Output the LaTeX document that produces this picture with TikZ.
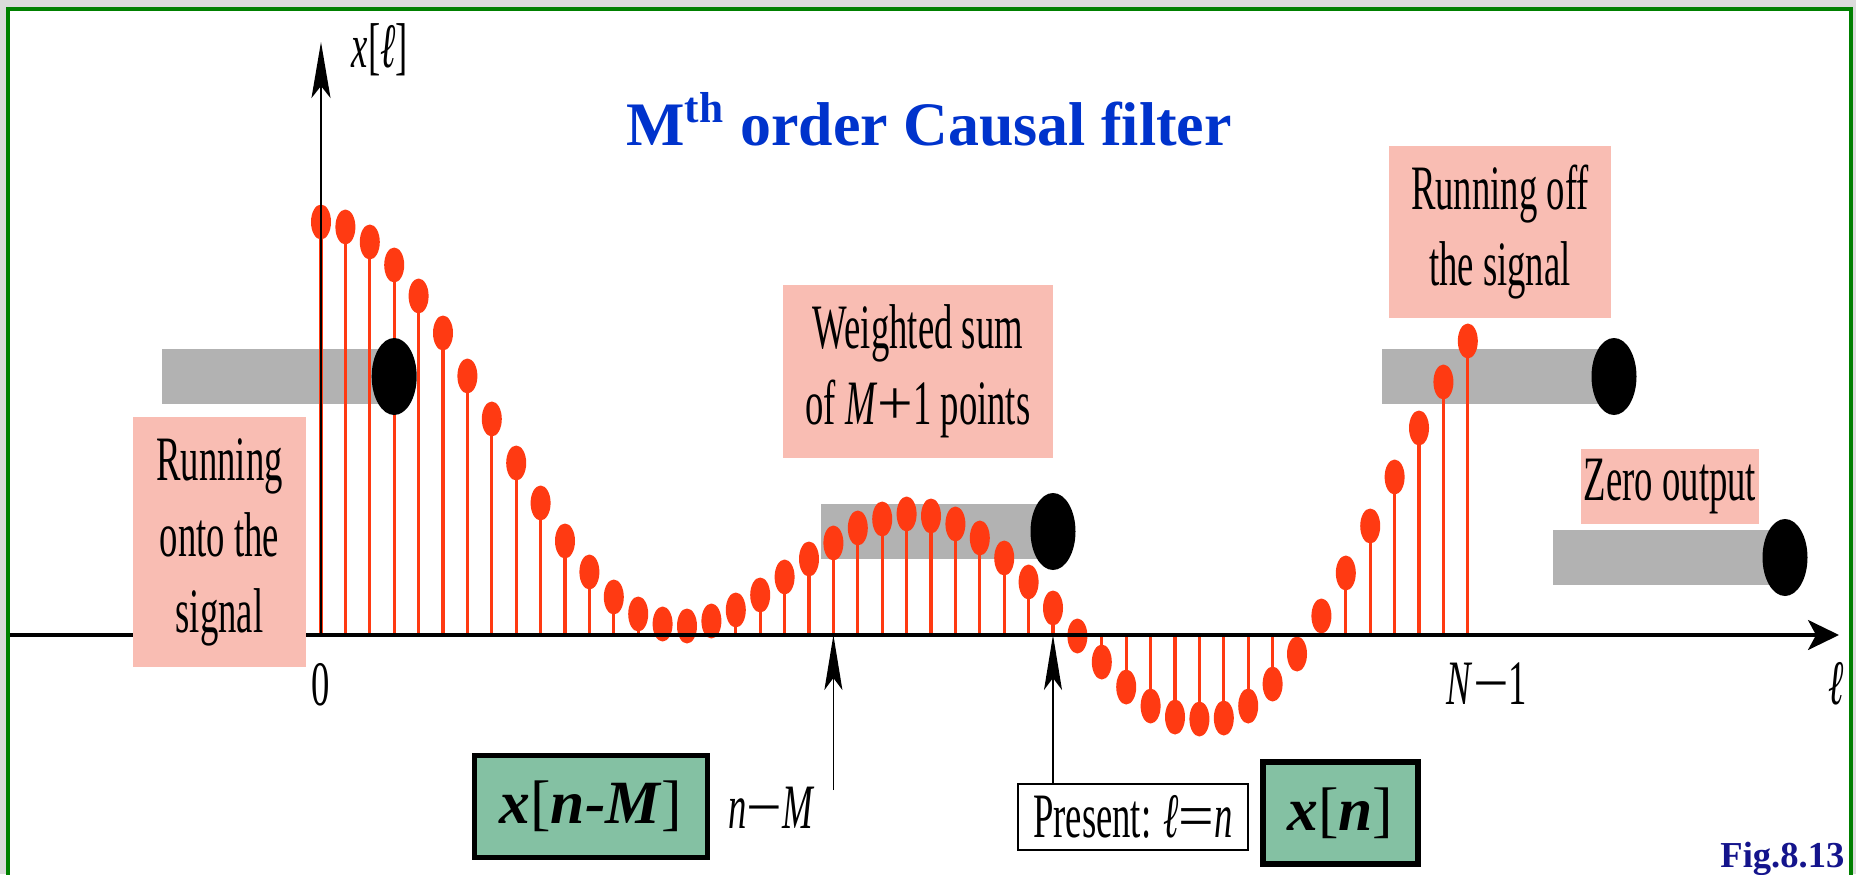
\documentclass[tikz,border=0pt]{standalone}
\usepackage{fontspec}
\setmainfont{Liberation Serif}
\newfontfamily\condfont[FakeStretch=0.58]{Liberation Serif}
\newcommand{\wideop}[1]{{\rmfamily #1}}
\usetikzlibrary{arrows.meta}
\definecolor{stemred}{RGB}{255,58,18}
\definecolor{notepink}{RGB}{249,189,179}
\definecolor{valuegreen}{RGB}{132,193,163}
\definecolor{titleblue}{RGB}{0,51,204}
\definecolor{fignavy}{RGB}{20,20,140}
\definecolor{framegreen}{RGB}{0,128,0}
\tikzset{
  notebox/.style={fill=notepink,inner sep=0pt,align=center,
    font=\condfont\fontsize{18}{21.6}\selectfont},
  valuebox/.style={draw=black,line width=1.5pt,fill=valuegreen,inner sep=0pt,
    font=\fontsize{17.5}{20}\selectfont},
  presentbox/.style={draw=black,line width=0.6pt,fill=white,inner sep=0pt,
    font=\condfont\fontsize{18}{21.6}\selectfont},
  axislabel/.style={inner sep=0pt,font=\condfont\fontsize{18}{21.6}\selectfont},
  stemline/.style={draw=stemred,line width=0.9pt},
  stemdot/.style={fill=stemred},
  windowbar/.style={fill=black!30},
  windowend/.style={fill=black},
  axisline/.style={line width=0.9pt},
  pointer/.style={-{Stealth[length=5.5mm,width=1.8mm,inset=1.2mm]},line width=0.45pt}
}

\begin{document}
\begin{tikzpicture}
  \path[use as bounding box,fill=black!14] (-3.21,-2.39) rectangle (15.35,6.35);
  \draw[framegreen,line width=0.9pt,fill=white] (-3.13,-2.6) rectangle (15.30,6.26);

  \node[font=\bfseries\fontsize{17.6}{20}\selectfont,text=titleblue,anchor=base,inner sep=0pt]
    (title) at (6.08,4.90) {M\textsuperscript{th} order Causal filter};

  \foreach \ex/\ey in {0.732/2.585,7.32/1.035,12.93/2.585,14.64/0.775}
    \fill[windowbar] (\ex-2.32,\ey-0.275) rectangle (\ex,\ey+0.275);

  \foreach \v [count=\k from 0] in {4.13,4.08,3.93,3.70,3.39,3.02,2.59,2.16,1.72,1.32,
      0.94,0.63,0.38,0.21,0.11,0.09,0.14,0.25,0.40,0.58,0.76,0.92,1.07,1.16,1.21,1.19,
      1.11,0.97,0.77,0.53,0.27,-0.01,-0.27,-0.52,-0.71,-0.82,-0.84,-0.83,-0.71,-0.49,
      -0.19,0.19,0.62,1.09,1.58,2.07,2.53,2.94} {
    \draw[stemline] (\k*0.244,0) -- (\k*0.244,\v);
    \fill[stemdot] (\k*0.244,\v) ellipse [x radius=0.1,y radius=0.175];
  }

  \coordinate (lstart) at (-3.11,0);
  \coordinate (lend) at (15.18,0);
  \coordinate (origin) at (0,0);
  \coordinate (ytop) at (0,5.93);
  \draw[axisline,-{Stealth[length=3.1mm,width=3mm,inset=0.8mm]}] (lstart) -- (lend);
  \draw[line width=0.7pt,-{Stealth[length=5.6mm,width=1.9mm,inset=1.2mm]}] (origin) -- (ytop);

  \foreach \ex/\ey in {0.732/2.585,7.32/1.035,12.93/2.585,14.64/0.775}
    \fill[windowend] (\ex,\ey) ellipse [x radius=0.225,y radius=0.385];

  \node[notebox,minimum width=1.73cm,minimum height=2.50cm] (onto) at (-1.015,0.93)
    {Running\\onto the\\signal};
  \node[notebox,minimum width=2.70cm,minimum height=1.73cm] (wsum) at (5.97,2.635)
    {Weighted sum\\of \textit{M}\wideop{+}1 points};
  \node[notebox,minimum width=2.22cm,minimum height=1.72cm] (off) at (11.79,4.03)
    {Running off\\the signal};
  \node[notebox,minimum width=1.78cm,minimum height=0.75cm] (zerout) at (13.49,1.485)
    {Zero output};

  \node[axislabel] (xlab) at (0.59,5.855) {\textit{x}[\textit{ℓ}]};
  \node[axislabel] (zero) at (0,-0.50) {0};
  \node[axislabel] (nlast) at (11.66,-0.49) {\textit{N}\wideop{−}1};
  \node[axislabel] (ell) at (15.15,-0.49) {\textit{ℓ}};
  \node[axislabel] (nmlab) at (4.505,-1.73) {\textit{n}\wideop{−}\textit{M}};
  \node[presentbox,minimum width=2.30cm,minimum height=0.66cm] (present) at (8.12,-1.82)
    {Present: \textit{ℓ}\wideop{=}\textit{n}};

  \node[valuebox,minimum width=2.33cm,minimum height=1.02cm] (xnm) at (2.70,-1.715)
    {\textbf{\textit{x}}[\textbf{\textit{n-M}}]};
  \node[valuebox,minimum width=1.55cm,minimum height=1.02cm] (xn) at (10.195,-1.78)
    {\textbf{\textit{x}}[\textbf{\textit{n}}]};

  \coordinate (nmtick) at (5.124,0);
  \coordinate (ntick) at (7.32,0);
  \coordinate (nmtail) at (5.124,-1.55);
  \draw[pointer] (nmtail) -- (nmtick);
  \draw[pointer] (present.north -| ntick) -- (ntick);

  \node[font=\bfseries\fontsize{10.4}{12}\selectfont,text=fignavy,anchor=base east,inner sep=0pt]
    (figref) at (15.24,-2.32) {Fig.8.13};
\end{tikzpicture}
\end{document}
